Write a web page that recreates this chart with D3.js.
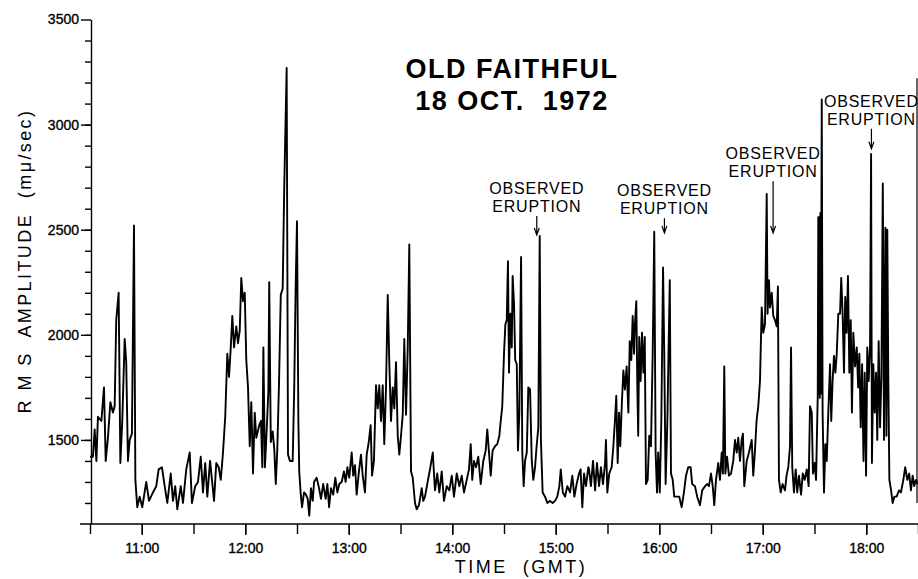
<!DOCTYPE html>
<meta charset="utf-8">
<style>
    body { margin: 0; background: #fff; }
    svg text { font-family: "Liberation Sans", Arial, sans-serif; fill: #000; }
    .trace { fill: none; stroke: #000; stroke-width: 1.9px; stroke-linejoin: round; }
    .axis path, .axis line { stroke: #000; stroke-width: 1.4px; }
    .axis text { font-size: 14px; stroke: #000; stroke-width: 0.35px; }
    .note { font-size: 16px; letter-spacing: 0.8px; }
    .arrow { fill: none; stroke: #000; stroke-width: 1.2px; }
</style>
<body>
<script src="https://cdn.jsdelivr.net/npm/d3@7/dist/d3.min.js"></script>
<script>

// seismometer trace, minutes after 10:30 GMT
var minutes = [
  0.0, 1.7, 2.7, 3.7, 4.6, 6.6, 8.1, 9.1, 10.4, 11.8, 13.3, 14.3, 15.2, 16.6, 17.6, 18.7, 20.1, 21.0, 22.0, 23.0,
  24.3, 25.5, 26.3, 27.4, 28.8, 30.3, 32.6, 34.2, 36.5, 38.4, 39.8, 41.7, 43.3, 44.8, 46.8, 48.1, 49.4, 50.6, 52.6, 53.9,
  55.8, 57.8, 59.1, 61.0, 62.6, 64.2, 65.5, 66.8, 68.0, 69.6, 70.7, 71.9, 73.2, 74.6, 75.8, 77.1, 78.4, 79.6, 80.6, 81.6,
  82.5, 83.5, 84.8, 85.8, 86.8, 87.7, 88.7, 89.7, 90.6, 91.6, 92.6, 93.5, 94.5, 95.5, 96.4, 98.1, 99.1, 99.9, 100.5, 101.4,
  102.4, 103.4, 103.9, 104.8, 105.9, 106.8, 107.7, 108.6, 109.6, 110.6, 111.7, 112.6, 114.0, 114.8, 115.9, 117.5, 118.4, 119.2, 120.0, 120.8,
  121.3, 122.1, 122.9, 124.1, 125.2, 126.2, 127.1, 128.1, 129.1, 129.9, 131.4, 132.8, 133.9, 135.2, 136.6, 137.6, 138.6, 139.7, 141.0, 142.2,
  143.4, 144.5, 145.9, 147.2, 148.2, 149.2, 150.3, 151.7, 152.6, 153.6, 154.6, 155.9, 157.1, 158.1, 159.4, 160.4, 161.6, 162.7, 163.5, 164.6,
  165.8, 166.8, 167.7, 168.7, 169.7, 170.6, 171.6, 172.6, 173.5, 174.5, 175.5, 176.4, 177.4, 178.4, 179.3, 180.3, 181.3, 182.2, 183.2, 184.2,
  185.1, 186.1, 187.1, 188.4, 189.4, 190.7, 192.3, 193.2, 194.2, 195.5, 197.1, 198.7, 200.0, 201.3, 202.5, 203.9, 205.2, 206.8, 208.3, 209.7,
  211.0, 212.6, 214.1, 215.5, 216.8, 218.4, 219.7, 220.7, 221.6, 222.6, 223.8, 225.1, 226.5, 228.0, 229.4, 230.3, 231.3, 232.3, 233.4, 234.8,
  236.1, 237.3, 238.1, 239.0, 240.0, 240.8, 241.6, 242.3, 242.9, 243.7, 244.5, 245.0, 245.8, 246.5, 247.4, 248.1, 248.9, 249.9, 250.6, 251.4,
  252.2, 253.2, 254.1, 255.1, 256.1, 257.0, 258.0, 258.9, 259.9, 260.7, 261.4, 262.4, 263.8, 265.1, 266.7, 268.2, 269.6, 270.9, 272.1, 272.9,
  274.1, 275.4, 276.7, 278.3, 279.6, 280.8, 282.1, 283.5, 284.4, 285.4, 286.4, 287.5, 288.9, 289.3, 290.4, 291.6, 292.8, 293.9, 295.1, 296.2,
  297.4, 298.6, 299.1, 299.9, 301.0, 302.4, 303.4, 304.3, 305.1, 305.9, 306.7, 307.4, 308.3, 309.2, 310.1, 311.1, 312.1, 312.9, 313.8, 314.6,
  315.4, 315.9, 316.7, 317.3, 317.8, 318.4, 319.2, 320.0, 320.8, 321.6, 322.3, 323.3, 324.2, 325.2, 326.2, 327.1, 327.9, 328.7, 329.4, 330.3,
  331.2, 332.2, 332.9, 333.7, 334.7, 336.1, 336.8, 337.8, 338.7, 340.1, 341.6, 343.0, 344.3, 345.5, 346.8, 348.2, 349.1, 350.7, 352.0, 353.6,
  354.9, 356.5, 357.8, 358.8, 360.0, 361.0, 361.9, 362.9, 364.2, 365.2, 366.2, 366.9, 367.7, 368.3, 369.3, 370.4, 371.6, 372.9, 373.9, 374.9,
  375.8, 376.8, 377.8, 378.5, 379.3, 380.7, 382.0, 383.6, 384.5, 385.5, 386.4, 387.4, 388.4, 389.4, 390.3, 391.3, 392.3, 392.8, 393.6, 394.2,
  395.2, 396.1, 397.1, 398.1, 398.8, 399.4, 400.4, 401.5, 402.9, 403.8, 404.8, 405.8, 406.4, 407.1, 408.1, 409.1, 410.0, 411.0, 412.2, 413.2,
  414.3, 415.5, 416.6, 417.4, 418.4, 419.1, 420.1, 420.9, 421.9, 422.2, 422.5, 422.8, 423.1, 423.4, 423.7, 424.0, 424.2, 424.7, 425.5, 426.3,
  427.1, 428.0, 429.0, 429.7, 430.5, 431.3, 432.1, 432.9, 433.8, 434.8, 435.5, 436.3, 437.1, 437.8, 438.6, 439.4, 440.2, 441.0, 441.7, 442.5,
  443.5, 444.5, 445.3, 446.0, 446.8, 447.6, 448.4, 449.1, 449.9, 450.6, 451.4, 452.2, 452.8, 453.3, 454.1, 454.9, 455.7, 456.4, 457.2, 458.0,
  458.8, 459.6, 460.3, 461.1, 461.7, 462.2, 462.8, 463.4, 464.4, 465.3, 466.3, 467.6, 469.0, 470.1, 471.5, 472.6, 473.8, 474.9, 475.9, 476.9,
  477.8, 478.8, 480.0
];

// RMS amplitude, m\u03bc/sec
var rms = [
  1420, 1420, 1550, 1400, 1610, 1590, 1750, 1400, 1510, 1680, 1630, 1660, 2070, 2200, 1390, 1590, 1980, 1870, 1400, 1500,
  1530, 2520, 1310, 1180, 1230, 1180, 1300, 1210, 1250, 1280, 1360, 1370, 1280, 1200, 1340, 1210, 1280, 1170, 1280, 1200,
  1360, 1440, 1200, 1280, 1300, 1420, 1250, 1390, 1230, 1400, 1310, 1210, 1390, 1370, 1310, 1440, 1610, 1910, 1800, 1940,
  2090, 1940, 2040, 1960, 2020, 2270, 2160, 2200, 1880, 1750, 1470, 1680, 1340, 1630, 1510, 1570, 1590, 1370, 1940, 1370,
  1540, 1730, 2250, 1490, 1540, 1460, 1290, 1460, 1780, 2190, 2220, 2700, 3270, 1430, 1400, 1400, 1750, 2220, 2540, 1590,
  1350, 1250, 1180, 1250, 1240, 1220, 1140, 1270, 1210, 1300, 1320, 1270, 1220, 1290, 1220, 1290, 1180, 1270, 1240, 1320,
  1250, 1290, 1300, 1350, 1300, 1370, 1320, 1440, 1330, 1380, 1240, 1350, 1430, 1330, 1250, 1430, 1490, 1570, 1330, 1400,
  1760, 1650, 1760, 1590, 1760, 1480, 1750, 2190, 1870, 1590, 1750, 1650, 1870, 1520, 1430, 1520, 1620, 1980, 1620, 1940,
  2430, 1350, 1320, 1200, 1170, 1190, 1270, 1210, 1230, 1290, 1360, 1440, 1260, 1340, 1250, 1350, 1210, 1280, 1260, 1330,
  1230, 1340, 1280, 1330, 1250, 1310, 1360, 1480, 1310, 1400, 1370, 1420, 1290, 1400, 1450, 1550, 1440, 1330, 1450, 1470,
  1480, 1520, 1590, 1660, 1910, 2050, 2070, 2350, 1820, 2100, 1940, 2280, 2150, 1880, 1860, 1450, 1630, 2370, 1440, 1280,
  1400, 1440, 1750, 1740, 1400, 1310, 1370, 1470, 1560, 2470, 1500, 1250, 1230, 1200, 1210, 1200, 1210, 1230, 1280, 1360,
  1250, 1230, 1280, 1250, 1330, 1230, 1290, 1340, 1360, 1180, 1340, 1280, 1370, 1360, 1280, 1400, 1260, 1390, 1280, 1370,
  1290, 1390, 1500, 1250, 1340, 1370, 1470, 1590, 1710, 1390, 1630, 1470, 1670, 1830, 1740, 1850, 1630, 1970, 1880, 2090,
  1910, 2050, 2160, 1750, 1520, 1990, 1780, 2010, 1820, 1990, 1290, 1310, 1520, 1470, 1910, 2490, 1440, 1250, 1440, 1250,
  1590, 2320, 1910, 1290, 1590, 2260, 1340, 1310, 1230, 1230, 1230, 1180, 1250, 1330, 1370, 1370, 1290, 1280, 1230, 1190,
  1260, 1280, 1290, 1280, 1340, 1280, 1190, 1310, 1390, 1310, 1440, 1340, 1850, 1340, 1420, 1330, 1340, 1400, 1500, 1440,
  1510, 1400, 1500, 1530, 1280, 1400, 1440, 1500, 1330, 1450, 1590, 1660, 1780, 2130, 2010, 2050, 2670, 2100, 2260, 2130,
  2200, 2090, 2070, 2040, 2230, 1310, 1250, 1290, 1260, 1330, 1370, 1470, 1940, 1370, 1250, 1360, 1250, 1330, 1240, 1340,
  1310, 1360, 1280, 1660, 1630, 1340, 1390, 1310, 1720, 2560, 1720, 2560, 1700, 2580, 1720, 2560, 3120, 1630, 1250, 1480,
  1400, 1630, 1860, 1590, 1780, 1900, 1820, 1910, 2100, 2100, 2270, 2100, 1820, 2180, 2010, 2280, 1820, 2070, 1630, 2010,
  1850, 1940, 1750, 1910, 1560, 1860, 1400, 1820, 1330, 1940, 1780, 1940, 2860, 1390, 1860, 1630, 1820, 1500, 1970, 1560,
  1800, 2720, 1500, 2510, 1520, 2500, 1780, 1310, 1260, 1200, 1230, 1230, 1260, 1250, 1310, 1370, 1310, 1340, 1260, 1330,
  1280, 1310, 1290
];

var hourLabels = ["11:00", "12:00", "13:00", "14:00", "15:00", "16:00", "17:00", "18:00"];
var yLabels = [1500, 2000, 2500, 3000, 3500];
var titleLines = ["OLD FAITHFUL", "18 OCT.  1972"];

// observed eruptions: arrow time, arrow tip and tail (m\u03bc/sec)
var eruptionTimes = ["14:49", "16:03", "17:06", "18:03"];
var eruptionTip = [2475, 2485, 2485, 2885];
var eruptionTail = [2565, 2555, 2730, 2980];

var width = 918, height = 579;

var svg = d3.select("body").append("svg")
    .attr("width", width)
    .attr("height", height);

var day = Date.UTC(1972, 9, 18);
function clock(s) {
    var p = s.split(":");
    return new Date(day + (+p[0]) * 3600e3 + (+p[1]) * 60e3);
}
var start = clock("10:30"), end = clock("18:30");

var x = d3.scaleUtc().domain([start, end]).range([90, 918]);
var y = d3.scaleLinear().domain([1100, 3500]).range([524, 19.5]);

var data = minutes.map(function (m, i) {
    return { t: new Date(start.getTime() + m * 60e3), v: rms[i] };
});

// x axis: half-hour ticks, labels on the hour
var halfHours = d3.utcMinute.every(30).range(start, new Date(end.getTime() + 1));
svg.append("g")
    .attr("class", "axis")
    .attr("transform", "translate(0,524)")
    .call(d3.axisBottom(x).tickValues(halfHours).tickSize(10).tickSizeOuter(0).tickFormat(""))
    .select(".domain").remove();

svg.append("g")
    .attr("class", "axis")
    .attr("transform", "translate(0,524)")
    .call(d3.axisBottom(x).tickValues(hourLabels.map(clock)).tickSize(11).tickPadding(8)
        .tickFormat(function (d, i) { return hourLabels[i]; }))
    .select(".domain").remove();

svg.append("line")
    .attr("x1", 80).attr("x2", 918)
    .attr("y1", 524).attr("y2", 524)
    .attr("stroke", "#000").attr("stroke-width", 1.6);

// y axis with minor ticks every 100
svg.append("g")
    .attr("class", "axis")
    .attr("transform", "translate(91,0)")
    .call(d3.axisLeft(y).tickValues(d3.range(1200, 3500, 100)).tickSize(6).tickSizeOuter(0).tickFormat(""));

svg.append("g")
    .attr("class", "axis")
    .attr("transform", "translate(91,0)")
    .call(d3.axisLeft(y).tickValues(yLabels).tickSize(10).tickPadding(2).tickSizeOuter(0)
        .tickFormat(d3.format("d")))
    .select(".domain").remove();

// right frame edge
svg.append("line")
    .attr("x1", 917).attr("x2", 917)
    .attr("y1", y(3220)).attr("y2", y(1200))
    .attr("stroke", "#000").attr("stroke-width", 1.2);

// trace
svg.append("path")
    .datum(data)
    .attr("class", "trace")
    .attr("d", d3.line().x(function (d) { return x(d.t); }).y(function (d) { return y(d.v); }));

// titles
svg.selectAll(".title")
    .data(titleLines)
    .enter().append("text")
    .attr("class", "title")
    .attr("x", 512)
    .attr("y", function (d, i) { return 78 + i * 32; })
    .attr("text-anchor", "middle")
    .style("font-size", "27px")
    .style("font-weight", "bold")
    .style("letter-spacing", "1.5px")
    .style("white-space", "pre")
    .text(function (d) { return d; });

svg.append("text")
    .attr("x", 521).attr("y", 573)
    .attr("text-anchor", "middle")
    .style("font-size", "18px")
    .style("letter-spacing", "2.5px")
    .style("white-space", "pre")
    .text("TIME  (GMT)");

svg.append("text")
    .attr("transform", "translate(31,261) rotate(-90)")
    .attr("text-anchor", "middle")
    .style("font-size", "18px")
    .style("letter-spacing", "2.4px")
    .style("white-space", "pre")
    .text("R M S  AMPLITUDE  (m\u03bc/sec)");

// eruption notes
var notes = svg.selectAll(".erupt")
    .data(eruptionTimes)
    .enter().append("g")
    .attr("class", "erupt")
    .attr("transform", function (d) { return "translate(" + x(clock(d)) + ",0)"; });

notes.append("path")
    .attr("class", "arrow")
    .attr("d", function (d, i) {
        var t = y(eruptionTip[i]), s = y(eruptionTail[i]);
        return "M0," + s + "V" + t + "M-2.5," + (t - 7) + "L0," + t + "L2.5," + (t - 7);
    });

notes.append("text")
    .attr("class", "note")
    .attr("text-anchor", "middle")
    .attr("y", function (d, i) { return y(eruptionTail[i]) - 22; })
    .text("OBSERVED");

notes.append("text")
    .attr("class", "note")
    .attr("text-anchor", "middle")
    .attr("y", function (d, i) { return y(eruptionTail[i]) - 4; })
    .text("ERUPTION");

</script>
</body>
